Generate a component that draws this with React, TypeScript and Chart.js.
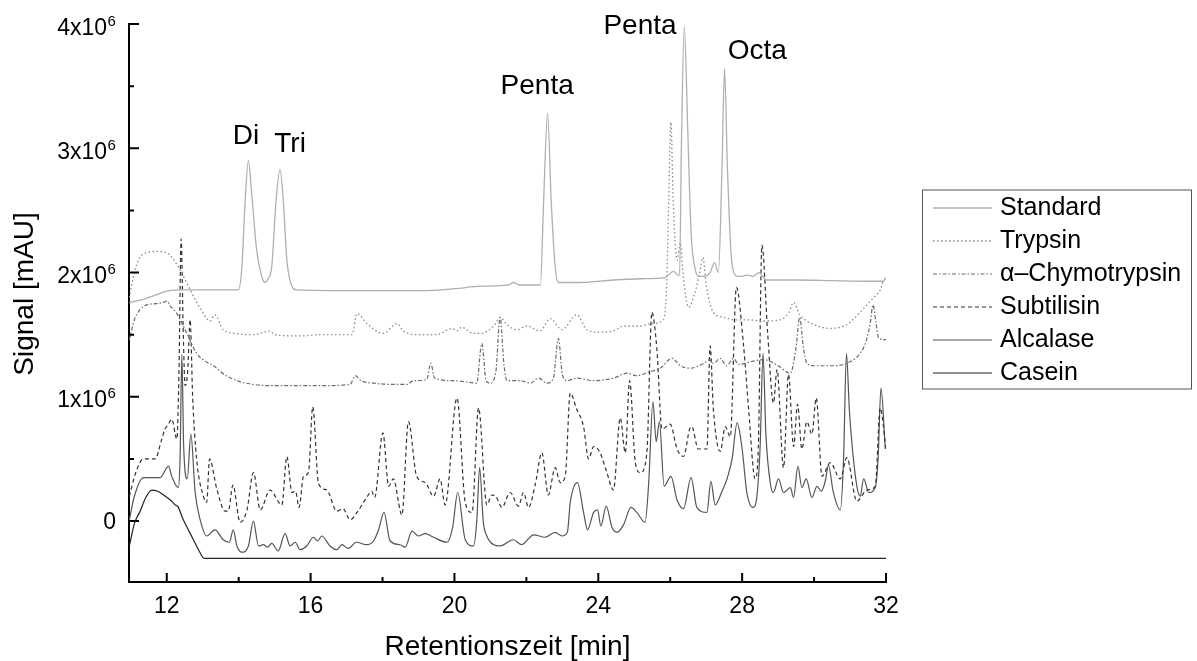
import React, { useEffect, useRef } from "react";
import { Chart, registerables } from "chart.js";

Chart.register(...registerables);

// Signal values are in units of 10^6 mAU, retention time in minutes.
const standard: [number, number][] = [
  [10.96, 1.76], [11.3, 1.78], [11.7, 1.82], [12.0, 1.85], [12.37, 1.86], [13.0, 1.86], [13.6, 1.86], [13.99, 1.86],
  [14.09, 2.05], [14.18, 2.58], [14.27, 2.9], [14.36, 2.64], [14.5, 2.18], [14.64, 1.97], [14.73, 1.92], [14.82, 1.95],
  [14.92, 2.05], [15.04, 2.58], [15.15, 2.83], [15.24, 2.58], [15.34, 2.1], [15.48, 1.89], [15.6, 1.86], [16.5, 1.855],
  [17.5, 1.855], [19.05, 1.855], [20.0, 1.87], [20.72, 1.89], [21.5, 1.9], [21.64, 1.92], [21.8, 1.9], [22.39, 1.9],
  [22.48, 2.58], [22.59, 3.28], [22.69, 2.58], [22.8, 2.05], [22.89, 1.92], [23.5, 1.92], [24.42, 1.94], [25.2, 1.95],
  [25.86, 1.96], [26.09, 2.01], [26.21, 1.98], [26.26, 1.98], [26.31, 2.99], [26.39, 3.98], [26.49, 3.12], [26.58, 2.32],
  [26.7, 2.02], [26.79, 1.97], [26.95, 1.97], [27.11, 2.0], [27.23, 2.08], [27.34, 2.0], [27.44, 2.85], [27.51, 3.64],
  [27.59, 2.85], [27.69, 2.16], [27.78, 1.99], [27.86, 1.97], [28.0, 1.97], [28.13, 1.98], [28.3, 1.97], [28.46, 2.0],
  [28.69, 1.94], [29.5, 1.94], [30.5, 1.935], [31.5, 1.93], [31.93, 1.93], [32.0, 1.96],
];

const trypsin: [number, number][] = [
  [10.96, 1.8], [11.1, 2.0], [11.25, 2.12], [11.44, 2.16], [11.7, 2.17], [12.0, 2.16], [12.2, 2.1], [12.37, 2.02],
  [12.55, 1.92], [12.74, 1.81], [13.0, 1.68], [13.2, 1.61], [13.34, 1.66], [13.57, 1.54], [13.9, 1.51], [14.41, 1.5],
  [14.87, 1.53], [15.0, 1.5], [15.71, 1.49], [16.26, 1.5], [17.15, 1.5], [17.29, 1.67], [17.56, 1.59], [18.02, 1.51],
  [18.4, 1.59], [18.58, 1.53], [19.0, 1.5], [19.51, 1.5], [19.93, 1.55], [20.07, 1.53], [20.2, 1.56], [20.53, 1.51],
  [20.72, 1.51], [21.09, 1.57], [21.27, 1.64], [21.46, 1.58], [21.74, 1.54], [22.01, 1.57], [22.38, 1.53], [22.66, 1.63],
  [22.99, 1.54], [23.4, 1.66], [23.68, 1.54], [24.0, 1.52], [24.42, 1.53], [24.7, 1.57], [25.17, 1.57], [25.5, 1.59],
  [25.81, 1.62], [25.9, 1.9], [25.96, 2.6], [26.02, 3.21], [26.08, 2.6], [26.19, 2.1], [26.28, 2.24], [26.37, 1.95],
  [26.51, 1.72], [26.69, 1.84], [26.82, 2.0], [26.91, 2.12], [27.0, 1.9], [27.2, 1.68], [27.5, 1.64], [27.76, 1.62],
  [28.13, 1.62], [28.6, 1.61], [29.06, 1.62], [29.3, 1.68], [29.43, 1.76], [29.6, 1.66], [29.8, 1.61], [30.1, 1.57],
  [30.45, 1.55], [30.9, 1.58], [31.28, 1.68], [31.5, 1.75], [31.66, 1.8], [31.84, 1.86], [31.92, 1.93], [32.0, 1.95],
];

const chymotrypsin: [number, number][] = [
  [10.96, 1.46], [11.1, 1.62], [11.25, 1.7], [11.44, 1.74], [11.7, 1.75], [11.9, 1.76], [12.0, 1.77], [12.1, 1.73],
  [12.28, 1.67], [12.56, 1.51], [12.83, 1.35], [13.05, 1.29], [13.3, 1.25], [13.6, 1.18], [13.95, 1.13], [14.4, 1.1],
  [14.87, 1.09], [15.5, 1.09], [16.3, 1.09], [17.1, 1.1], [17.24, 1.17], [17.4, 1.13], [17.75, 1.11], [18.3, 1.1],
  [18.68, 1.1], [18.86, 1.13], [19.23, 1.14], [19.34, 1.27], [19.45, 1.15], [19.97, 1.13], [20.3, 1.12], [20.62, 1.11],
  [20.76, 1.43], [20.88, 1.13], [20.99, 1.11], [21.15, 1.2], [21.27, 1.64], [21.38, 1.25], [21.46, 1.13], [21.83, 1.13],
  [22.11, 1.11], [22.34, 1.15], [22.57, 1.11], [22.75, 1.15], [22.89, 1.47], [23.0, 1.18], [23.13, 1.13], [23.4, 1.15],
  [23.87, 1.13], [24.42, 1.15], [24.8, 1.19], [25.07, 1.17], [25.4, 1.2], [25.72, 1.23], [26.05, 1.31], [26.28, 1.25],
  [26.56, 1.23], [26.93, 1.27], [27.1, 1.3], [27.2, 1.27], [27.39, 1.31], [27.57, 1.25], [27.76, 1.31], [27.9, 1.26],
  [28.2, 1.28], [28.6, 1.3], [29.0, 1.25], [29.34, 1.19], [29.5, 1.4], [29.6, 1.64], [29.7, 1.4], [29.8, 1.27],
  [29.98, 1.25], [30.45, 1.25], [30.91, 1.27], [31.28, 1.35], [31.45, 1.45], [31.56, 1.59], [31.64, 1.74], [31.72, 1.6],
  [31.8, 1.47], [32.0, 1.46],
];

const subtilisin: [number, number][] = [
  [10.96, 0.2], [11.15, 0.4], [11.35, 0.5], [11.68, 0.5], [11.85, 0.65], [11.95, 0.74], [12.05, 0.78], [12.14, 0.82],
  [12.28, 0.66], [12.34, 1.2], [12.4, 2.27], [12.46, 1.5], [12.51, 1.09], [12.58, 1.2], [12.65, 1.62], [12.72, 1.0],
  [12.83, 0.5], [13.02, 0.2], [13.11, 0.15], [13.19, 0.5], [13.39, 0.26], [13.62, 0.08], [13.71, 0.08], [13.84, 0.29],
  [14.04, -0.01], [14.23, 0.09], [14.41, 0.39], [14.6, 0.09], [14.87, 0.25], [15.2, 0.13], [15.34, 0.52], [15.48, 0.23],
  [15.58, 0.24], [15.68, 0.11], [15.8, 0.36], [15.94, 0.39], [16.06, 0.92], [16.22, 0.3], [16.45, 0.25], [16.73, 0.08],
  [16.9, 0.1], [17.1, 0.01], [17.29, 0.07], [17.56, 0.19], [17.7, 0.24], [17.78, 0.19], [18.01, 0.71], [18.17, 0.28],
  [18.3, 0.34], [18.54, 0.05], [18.72, 0.8], [18.95, 0.36], [19.19, 0.31], [19.42, 0.2], [19.6, 0.34], [19.74, 0.13],
  [20.07, 0.99], [20.3, 0.15], [20.49, 0.07], [20.67, 0.91], [20.9, 0.13], [21.04, 0.21], [21.15, 0.2], [21.32, 0.11],
  [21.55, 0.23], [21.78, 0.12], [21.92, 0.23], [22.06, 0.11], [22.25, 0.3], [22.43, 0.55], [22.61, 0.21], [22.8, 0.43],
  [22.94, 0.31], [23.08, 0.36], [23.22, 1.03], [23.4, 0.9], [23.59, 0.76], [23.73, 0.5], [23.87, 0.6], [24.05, 0.55],
  [24.24, 0.39], [24.42, 0.25], [24.61, 0.83], [24.75, 0.55], [24.87, 1.13], [25.03, 0.47], [25.17, 0.39], [25.35, 0.55],
  [25.49, 1.68], [25.63, 1.38], [25.77, 0.74], [26.0, 0.78], [26.19, 0.58], [26.37, 0.52], [26.54, 0.74], [26.6, 0.76],
  [26.78, 0.58], [27.02, 0.58], [27.11, 1.41], [27.2, 0.9], [27.39, 0.56], [27.53, 0.76], [27.67, 0.68], [27.84, 1.88],
  [28.04, 1.41], [28.18, 0.9], [28.36, 0.34], [28.45, 0.6], [28.55, 2.22], [28.71, 1.51], [28.87, 0.95], [28.97, 1.22],
  [29.15, 0.43], [29.29, 1.18], [29.43, 0.6], [29.54, 0.94], [29.66, 0.58], [29.8, 0.8], [29.94, 0.7], [30.06, 0.99],
  [30.22, 0.36], [30.45, 0.47], [30.73, 0.34], [30.91, 0.51], [31.19, 0.16], [31.47, 0.25], [31.7, 0.28], [31.84, 0.91],
  [32.0, 0.58],
];

const alcalase: [number, number][] = [
  [10.96, 0.01], [11.1, 0.2], [11.35, 0.35], [11.81, 0.35], [12.05, 0.44], [12.14, 0.36], [12.32, 0.27], [12.37, 0.5],
  [12.42, 1.34], [12.47, 0.6], [12.57, 0.34], [12.67, 0.7], [12.79, 0.23], [12.93, 0.01], [13.11, -0.12], [13.34, -0.07],
  [13.57, -0.15], [13.74, -0.17], [13.85, -0.07], [13.95, -0.2], [14.09, -0.25], [14.27, -0.2], [14.41, 0.0], [14.55, -0.2],
  [14.69, -0.19], [14.8, -0.21], [14.92, -0.18], [15.1, -0.24], [15.29, -0.1], [15.43, -0.2], [15.57, -0.17], [15.71, -0.23],
  [15.89, -0.2], [16.08, -0.13], [16.19, -0.16], [16.31, -0.12], [16.54, -0.2], [16.73, -0.23], [16.87, -0.19], [17.05, -0.22],
  [17.27, -0.17], [17.56, -0.19], [17.75, -0.16], [17.89, -0.07], [18.04, 0.07], [18.21, -0.16], [18.49, -0.19], [18.63, -0.21],
  [18.82, -0.08], [19.0, -0.12], [19.19, -0.1], [19.42, -0.13], [19.79, -0.17], [19.95, -0.05], [20.09, 0.23], [20.3, -0.15],
  [20.53, -0.2], [20.62, 0.0], [20.7, 0.43], [20.8, 0.0], [20.9, -0.12], [21.09, -0.19], [21.27, -0.2], [21.64, -0.15],
  [21.87, -0.19], [22.2, -0.11], [22.52, -0.13], [22.8, -0.09], [22.99, -0.12], [23.14, -0.09], [23.22, 0.15], [23.42, 0.31],
  [23.59, 0.07], [23.7, -0.07], [23.87, 0.07], [23.98, 0.09], [24.07, -0.04], [24.22, 0.12], [24.38, -0.05], [24.52, -0.09],
  [24.7, -0.03], [24.91, 0.11], [25.07, 0.07], [25.3, -0.01], [25.4, 0.3], [25.52, 0.96], [25.61, 0.64], [25.7, 0.8],
  [25.83, 0.28], [26.02, 0.36], [26.19, 0.17], [26.37, 0.1], [26.58, 0.35], [26.74, 0.11], [27.02, 0.07], [27.13, 0.32],
  [27.25, 0.13], [27.44, 0.24], [27.58, 0.34], [27.72, 0.5], [27.86, 0.79], [28.0, 0.58], [28.13, 0.23], [28.3, 0.11],
  [28.41, 0.2], [28.5, 0.6], [28.58, 1.35], [28.66, 0.7], [28.78, 0.31], [28.87, 0.23], [29.01, 0.34], [29.15, 0.23],
  [29.34, 0.27], [29.43, 0.19], [29.55, 0.44], [29.66, 0.27], [29.78, 0.34], [29.94, 0.19], [30.08, 0.28], [30.2, 0.24],
  [30.31, 0.32], [30.4, 0.45], [30.53, 0.24], [30.73, 0.09], [30.82, 0.5], [30.9, 1.35], [30.98, 0.9], [31.06, 0.6],
  [31.19, 0.28], [31.28, 0.2], [31.38, 0.34], [31.52, 0.23], [31.7, 0.27], [31.78, 0.5], [31.86, 1.07], [31.98, 0.58],
];

const casein: [number, number][] = [
  [10.96, -0.2], [11.1, -0.02], [11.26, 0.08], [11.4, 0.18], [11.58, 0.25], [11.75, 0.24], [11.91, 0.21], [12.14, 0.16],
  [12.23, 0.13], [12.3, 0.12], [12.46, 0.01], [12.6, -0.07], [12.74, -0.15], [12.9, -0.24], [13.04, -0.3], [32.0, -0.3],
];

const seriesNames = ["Standard", "Trypsin", "\u03b1\u2013Chymotrypsin", "Subtilisin", "Alcalase", "Casein"];

const xTicks = [12, 16, 20, 24, 28, 32];
const xMinorTicks = [14, 18, 22, 26, 30];
const yTicks = [0, 1, 2, 3, 4];
const yTickBase = ["0", "1x10", "2x10", "3x10", "4x10"];
const yTickExp = ["", "6", "6", "6", "6"];
const yMinorTicks = [0.5, 1.5, 2.5, 3.5];

const peakLabels = ["Di", "Tri", "Penta", "Penta", "Octa"];
const peakLabelTime = [14.2, 15.43, 22.3, 25.16, 28.42];
const peakLabelSignal = [3.1, 3.03, 3.5, 3.98, 3.78];

const FONT = "'Liberation Sans', Arial, sans-serif";

const styles = [
  { color: "#b0b0b0", dash: [] as number[], width: 1.3 },
  { color: "#8a8a8a", dash: [1.5, 2.5], width: 1.3 },
  { color: "#6a6a6a", dash: [4, 2, 1.5, 2], width: 1.2 },
  { color: "#333333", dash: [4, 3], width: 1.2 },
  { color: "#555555", dash: [] as number[], width: 1.2 },
  { color: "#222222", dash: [] as number[], width: 1.2 },
];

const extrasPlugin = {
  id: "extras",
  afterDraw(chart: any) {
    const { ctx, scales } = chart;
    const xs = scales.x;
    const ys = scales.y;
    const axisY = xs.top;
    const axisX = ys.right;
    ctx.save();
    // inward tick marks
    ctx.strokeStyle = "#000";
    ctx.lineWidth = 2;
    ctx.beginPath();
    xTicks.forEach((t) => {
      const px = xs.getPixelForValue(t);
      ctx.moveTo(px, axisY);
      ctx.lineTo(px, axisY - 9);
    });
    xMinorTicks.forEach((t) => {
      const px = xs.getPixelForValue(t);
      ctx.moveTo(px, axisY);
      ctx.lineTo(px, axisY - 5);
    });
    yTicks.forEach((v) => {
      const py = ys.getPixelForValue(v);
      ctx.moveTo(axisX, py);
      ctx.lineTo(axisX + 10, py);
    });
    yMinorTicks.forEach((v) => {
      const py = ys.getPixelForValue(v);
      ctx.moveTo(axisX, py);
      ctx.lineTo(axisX + 5, py);
    });
    ctx.stroke();

    // y tick labels with superscript exponent
    ctx.fillStyle = "#000";
    ctx.textBaseline = "alphabetic";
    yTicks.forEach((v, i) => {
      const py = ys.getPixelForValue(v);
      if (yTickExp[i]) {
        ctx.font = `23px ${FONT}`;
        ctx.textAlign = "right";
        ctx.fillText(yTickBase[i], 107, py + 10.5);
        ctx.font = `15px ${FONT}`;
        ctx.textAlign = "left";
        ctx.fillText(yTickExp[i], 107.5, py + 1.5);
      } else {
        ctx.font = `23px ${FONT}`;
        ctx.textAlign = "right";
        ctx.fillText(yTickBase[i], 116, py + 8);
      }
    });

    // y axis title
    ctx.save();
    ctx.translate(25, 294);
    ctx.rotate(-Math.PI / 2);
    ctx.font = `28px ${FONT}`;
    ctx.textAlign = "center";
    ctx.textBaseline = "middle";
    ctx.fillText("Signal [mAU]", 0, 0);
    ctx.restore();

    // peak annotations
    ctx.fillStyle = "#000";
    ctx.font = `28px ${FONT}`;
    ctx.textAlign = "center";
    ctx.textBaseline = "middle";
    peakLabels.forEach((lab, i) => {
      ctx.fillText(lab, xs.getPixelForValue(peakLabelTime[i]), ys.getPixelForValue(peakLabelSignal[i]));
    });

    // legend
    const bx = 922.5, by = 190, bw = 269, bh = 199;
    ctx.strokeStyle = "#555";
    ctx.lineWidth = 1;
    ctx.strokeRect(bx, by, bw, bh);
    ctx.font = `25px ${FONT}`;
    ctx.textAlign = "left";
    seriesNames.forEach((name, i) => {
      const cy = by + 18 + i * 33;
      const st = styles[i];
      ctx.strokeStyle = st.color;
      ctx.lineWidth = st.width;
      ctx.setLineDash(st.dash);
      ctx.beginPath();
      ctx.moveTo(933, cy);
      ctx.lineTo(992, cy);
      ctx.stroke();
      ctx.setLineDash([]);
      ctx.fillStyle = "#000";
      ctx.fillText(name, 1000, cy);
    });
    ctx.restore();
  },
};

export default function App() {
  const ref = useRef<HTMLCanvasElement | null>(null);
  useEffect(() => {
    if (!ref.current) return;
    const all = [standard, trypsin, chymotrypsin, subtilisin, alcalase, casein];
    const chart = new Chart(ref.current, {
      type: "line",
      data: {
        datasets: all.map((d, i) => ({
          label: seriesNames[i],
          data: d.map(([x, y]) => ({ x, y })),
          borderColor: styles[i].color,
          borderWidth: styles[i].width,
          borderDash: styles[i].dash,
          pointRadius: 0,
          fill: false,
          cubicInterpolationMode: "monotone" as const,
        })),
      },
      options: {
        animation: false,
        responsive: false,
        maintainAspectRatio: false,
        layout: { padding: { left: 0, top: 24, right: 311, bottom: 0 } },
        plugins: { legend: { display: false }, tooltip: { enabled: false } },
        scales: {
          x: {
            type: "linear",
            min: 10.95,
            max: 32,
            afterBuildTicks: (s: any) => {
              s.ticks = xTicks.map((v) => ({ value: v }));
            },
            afterFit: (s: any) => {
              s.height = 79;
            },
            grid: { display: false, drawTicks: false },
            border: { display: true, color: "#000", width: 2 },
            ticks: {
              color: "#000",
              font: { family: FONT, size: 23 },
              padding: 11,
              maxRotation: 0,
              autoSkip: false,
              callback: (v: any) => String(v),
            },
            title: {
              display: true,
              text: "Retentionszeit [min]",
              color: "#000",
              font: { family: FONT, size: 28, lineHeight: 1 },
              padding: { top: 0, bottom: 0 },
            },
          },
          y: {
            type: "linear",
            min: -0.49,
            max: 4,
            afterBuildTicks: (s: any) => {
              s.ticks = yTicks.map((v) => ({ value: v }));
            },
            afterFit: (s: any) => {
              s.width = 129;
            },
            grid: { display: false, drawTicks: false },
            border: { display: true, color: "#000", width: 2 },
            ticks: { display: false },
            title: { display: false },
          },
        },
      },
      plugins: [extrasPlugin],
    });
    return () => chart.destroy();
  }, []);
  return (
    <div style={{ position: "fixed", left: 0, top: 0, width: 1197, height: 661, background: "#fff" }}>
      <canvas ref={ref} width={1197} height={661} style={{ width: 1197, height: 661 }} />
    </div>
  );
}
